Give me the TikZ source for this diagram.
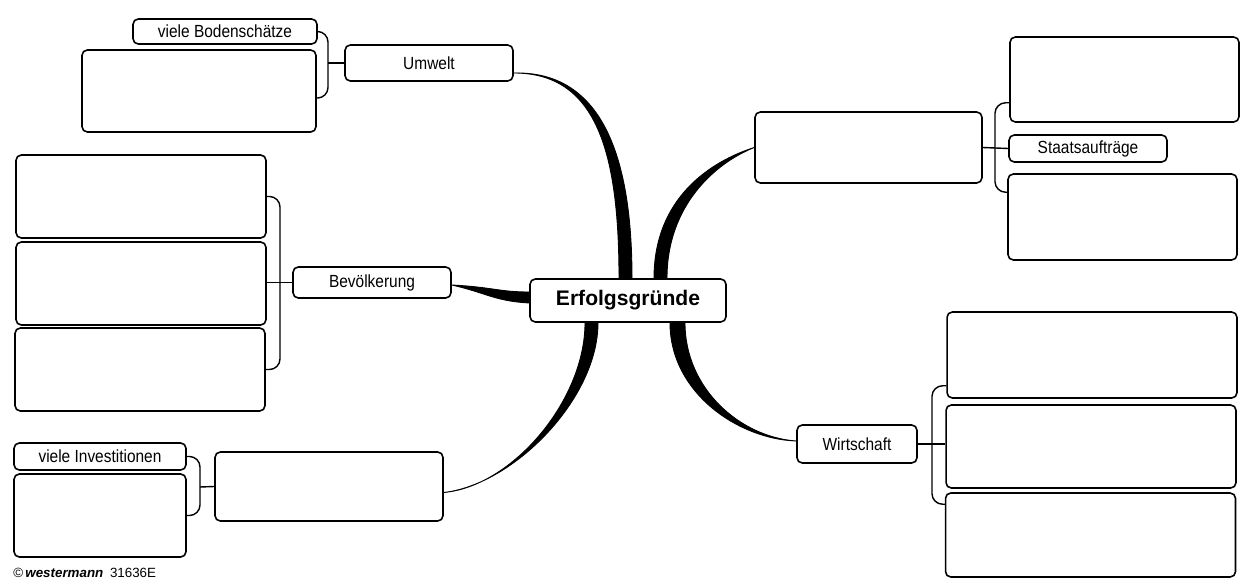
\documentclass[tikz,border=0pt]{standalone}
\usepackage{fontspec}
\setmainfont{Liberation Sans}
\newfontfamily\schmal{Liberation Sans}[FakeStretch=0.88]
\begin{document}
\begin{tikzpicture}[x=0.02cm,y=-0.02cm,
        kasten/.style={draw,rounded corners=3pt,line width=0.9pt,inner sep=0pt,font=\schmal\fontsize{10}{12}\selectfont},
        klammer/.style={rounded corners=6pt,line width=0.8pt},
        ast/.style={fill=black,draw=black,line width=0.5pt,line join=round}]
        \useasboundingbox (0,0) rectangle (1247,584);
        \node[kasten,minimum width=3.92cm,minimum height=0.86cm,font=\bfseries\fontsize{12}{14}\selectfont] (erfolg) at (628,300.5) {Erfolgsgründe};

        \node[kasten,minimum width=3.36cm,minimum height=0.72cm] (umwelt) at (429,63) {Umwelt};
        \node[kasten,minimum width=3.68cm,minimum height=0.5cm] (boden) at (225,31.5) {viele Bodenschätze};
        \node[kasten,minimum width=4.68cm,minimum height=1.64cm] (umleer) at (199,91) {};
        \coordinate (kU) at (328,63);
        \draw[klammer] (boden.east) -| (kU) |- ([yshift=-0.14cm]umleer.east);
        \draw[klammer] (umwelt.west) -- (kU);

        \node[kasten,minimum width=3.16cm,minimum height=0.62cm] (bevoelk) at (372,282.5) {Bevölkerung};
        \node[kasten,minimum width=5cm,minimum height=1.66cm] (bev1) at (141,196.5) {};
        \node[kasten,minimum width=5cm,minimum height=1.66cm] (bev2) at (141,283.5) {};
        \node[kasten,minimum width=5cm,minimum height=1.66cm] (bev3) at (140,369.5) {};
        \coordinate (kB) at (280,283);
        \draw[klammer] (bev1.east) -| (kB) |- (bev3.east);
        \draw[klammer] (bevoelk.west) -- (bevoelk.west -| bev2.east);

        \node[kasten,minimum width=3.44cm,minimum height=0.54cm] (invest) at (100,456.5) {viele Investitionen};
        \node[kasten,minimum width=3.44cm,minimum height=1.66cm] (invleer) at (100,515.5) {};
        \node[kasten,minimum width=4.56cm,minimum height=1.38cm] (kapital) at (329,486.5) {};
        \coordinate (kI) at (200,487);
        \draw[klammer] (invest.east) -| (kI) |- (invleer.east);
        \draw[klammer] (kapital.west) -- (kI);

        \node[kasten,minimum width=4.54cm,minimum height=1.42cm] (staatleer) at (868.5,147.5) {};
        \node[kasten,minimum width=4.58cm,minimum height=1.7cm] (st1) at (1124.5,79.5) {};
        \node[kasten,minimum width=3.16cm,minimum height=0.54cm] (staat) at (1088,148.5) {Staatsaufträge};
        \node[kasten,minimum width=4.58cm,minimum height=1.72cm] (st3) at (1122.5,217) {};
        \coordinate (kS) at (995,148);
        \draw[klammer] ([yshift=0.4cm]st1.south west) -| (kS) |- ([yshift=-0.38cm]st3.north west);
        \draw[klammer] (staatleer.east) -- (staat.west);

        \node[kasten,minimum width=2.4cm,minimum height=0.76cm] (wirt) at (857,444) {Wirtschaft};
        \node[kasten,minimum width=5.8cm,minimum height=1.72cm] (wi1) at (1092,355) {};
        \node[kasten,minimum width=5.8cm,minimum height=1.66cm] (wi2) at (1091,446.5) {};
        \node[kasten,minimum width=5.8cm,minimum height=1.68cm] (wi3) at (1090.5,535) {};
        \coordinate (kW) at (932,444);
        \draw[klammer] ([yshift=0.26cm]wi1.south west) -| (kW) |- ([yshift=-0.24cm]wi3.north west);
        \draw[klammer] (wirt.east) -- (wirt.east -| wi2.west);

        \filldraw[ast] ([yshift=-0.2cm]umwelt.east) .. controls +(82,0) and +(0,-128) .. ([xshift=-0.18cm]erfolg.north) -- ([xshift=0.08cm]erfolg.north) .. controls +(0,-130) and +(84,-2) .. ([yshift=-0.2cm]umwelt.east);
        \filldraw[ast] (staatleer.west) .. controls +(-44,14) and +(0,-80) .. ([xshift=0.52cm]erfolg.north) -- ([xshift=0.78cm]erfolg.north) .. controls +(0,-72) and +(-40,16) .. (staatleer.west);
        \filldraw[ast] ([yshift=-0.05cm]bevoelk.east) .. controls +(40,2) and +(-30,0) .. ([yshift=0.17cm]erfolg.west) -- ([yshift=-0.05cm]erfolg.west) .. controls +(-35,-2) and +(35,8) .. ([yshift=-0.05cm]bevoelk.east);
        \filldraw[ast] ([yshift=-0.12cm]kapital.east) .. controls +(68,-6) and +(0,78) .. ([xshift=-0.86cm]erfolg.south) -- ([xshift=-0.6cm]erfolg.south) .. controls +(0,76) and +(70,-8) .. ([yshift=-0.12cm]kapital.east);
        \filldraw[ast] ([yshift=0.06cm]wirt.west) .. controls +(-58,-2) and +(0,70) .. ([xshift=0.84cm]erfolg.south) -- ([xshift=1.14cm]erfolg.south) .. controls +(0,66) and +(-56,-4) .. ([yshift=0.06cm]wirt.west);

        \node[anchor=west,inner sep=0pt,font=\fontsize{7.6}{9}\selectfont] (copy) at (13,573) {\textcopyright\,\textbf{\textit{westermann}}\enspace 31636E};
    \end{tikzpicture}
\end{document}
